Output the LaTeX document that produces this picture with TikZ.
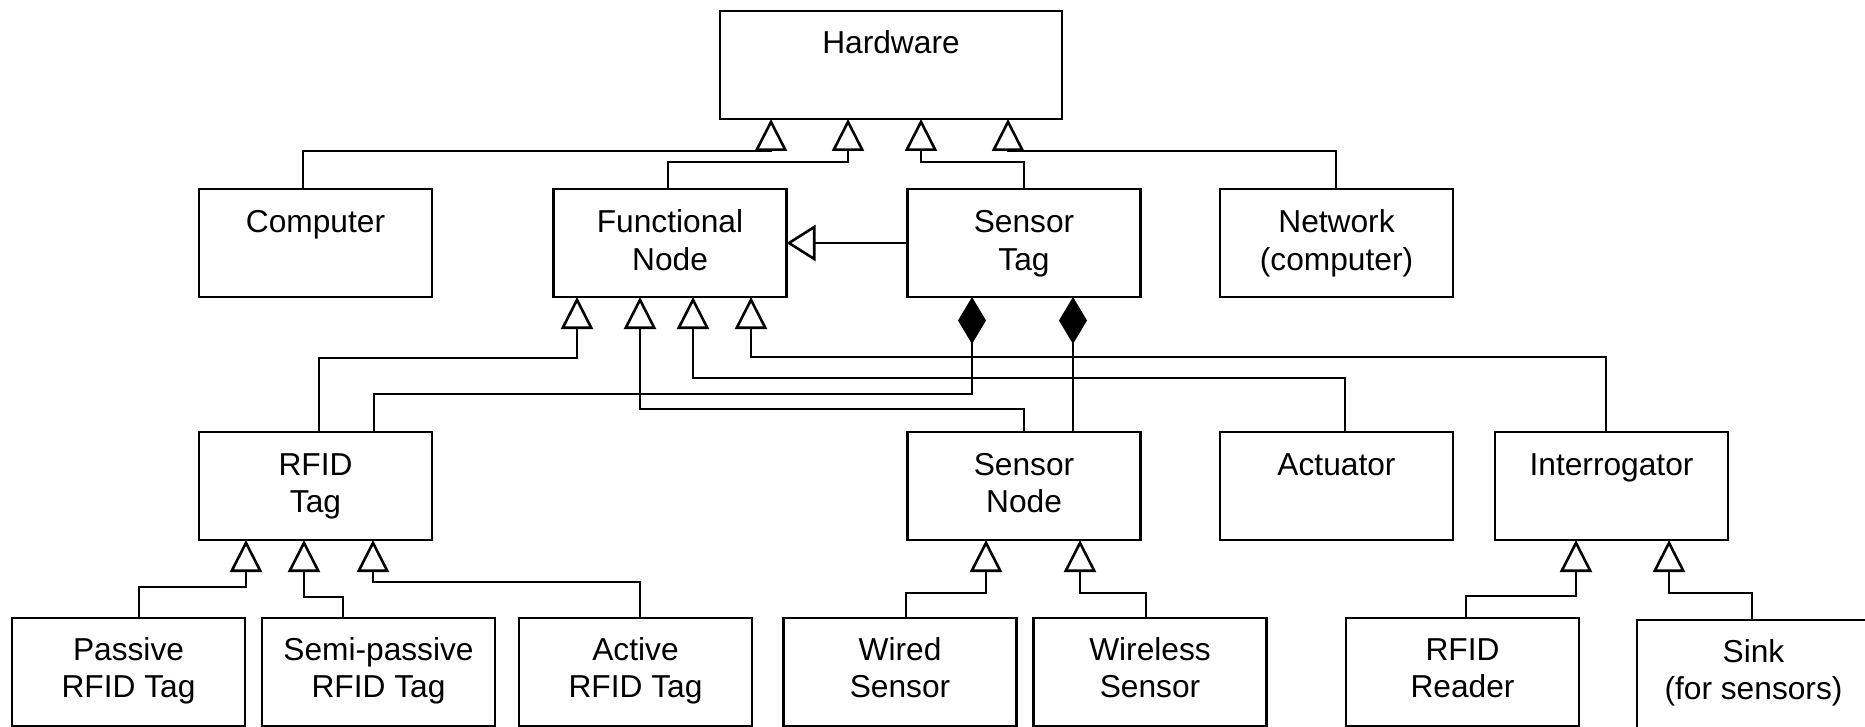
\documentclass[tikz,border=0pt]{standalone}
\usepackage{fontspec}
\setmainfont{Liberation Sans}
\usetikzlibrary{arrows.meta}
\begin{document}
\begin{tikzpicture}[x=1pt,y=-1pt,
  box/.style={draw, line width=2.7pt, minimum height=108pt, minimum width=233pt, inner sep=0pt, outer sep=0pt},
  lbl/.style={font=\fontsize{31.7}{37}\selectfont, align=center, anchor=base, inner sep=0pt},
  conn/.style={line width=2.6pt},
  gen/.style={conn, -{Triangle[open, length=32pt, width=32pt, fill=white]}},
  genh/.style={conn, -{Triangle[open, length=29pt, width=36pt, fill=white]}},
  compos/.style={conn, -{Diamond[length=47pt, width=28pt]}},
]
\useasboundingbox (0,0) rectangle (1865,727);
% boxes
\node[box, minimum width=342pt] (hw) at (891,65) {};
\node[box] (comp) at (315.5,243) {};
\node[box] (fn) at (670,243) {};
\node[box] (st) at (1024,243) {};
\node[box] (net) at (1336.5,243) {};
\node[box] (rfid) at (315.5,486) {};
\node[box] (sn) at (1024,486) {};
\node[box] (act) at (1336.5,486) {};
\node[box] (intr) at (1611.5,486) {};
\node[box] (pas) at (128.5,672) {};
\node[box] (semi) at (378.5,672) {};
\node[box] (actv) at (635.5,672) {};
\node[box] (wired) at (900,672) {};
\node[box] (wless) at (1150,672) {};
\node[box] (reader) at (1462.5,672) {};
\node[box] (sink) at (1753.5,674) {};
% labels (base anchor = baseline of the last line)
\node[lbl] (hw-t) at ([yshift=-43pt]hw.north) {Hardware};
\node[lbl] (comp-t) at ([yshift=-44pt]comp.north) {Computer};
\node[lbl] (fn-t) at ([yshift=-81pt]fn.north) {Functional\\Node};
\node[lbl] (st-t) at ([yshift=-81pt]st.north) {Sensor\\Tag};
\node[lbl] (net-t) at ([yshift=-81pt]net.north) {Network\\(computer)};
\node[lbl] (rfid-t) at ([yshift=-80pt]rfid.north) {RFID\\Tag};
\node[lbl] (sn-t) at ([yshift=-80pt]sn.north) {Sensor\\Node};
\node[lbl] (act-t) at ([yshift=-43pt]act.north) {Actuator};
\node[lbl] (intr-t) at ([yshift=-43pt]intr.north) {Interrogator};
\node[lbl] (pas-t) at ([yshift=-79pt]pas.north) {Passive\\RFID Tag};
\node[lbl] (semi-t) at ([yshift=-79pt]semi.north) {Semi-passive\\RFID Tag};
\node[lbl] (actv-t) at ([yshift=-79pt]actv.north) {Active\\RFID Tag};
\node[lbl] (wired-t) at ([yshift=-79pt]wired.north) {Wired\\Sensor};
\node[lbl] (wless-t) at ([yshift=-79pt]wless.north) {Wireless\\Sensor};
\node[lbl] (reader-t) at ([yshift=-79pt]reader.north) {RFID\\Reader};
\node[lbl] (sink-t) at ([yshift=-79pt]sink.north) {Sink\\(for sensors)};
% generalisations to Hardware
\draw[gen] (303,0 |- comp.north) |- (771,151) -- (771,0 |- hw.south);
\draw[gen] (668,0 |- fn.north) |- (848,162) -- (848,0 |- hw.south);
\draw[gen] (1024,0 |- st.north) |- (921,162) -- (921,0 |- hw.south);
\draw[gen] (1336,0 |- net.north) |- (1008,151) -- (1008,0 |- hw.south);
% Sensor Tag -> Functional Node
\draw[genh] (st.west) -- (fn.east);
% generalisations to Functional Node
\draw[gen] (319,0 |- rfid.north) |- (577,358) -- (577,0 |- fn.south);
\draw[gen] (1024,0 |- sn.north) |- (640,409) -- (640,0 |- fn.south);
\draw[gen] (1345,0 |- act.north) |- (693,378) -- (693,0 |- fn.south);
\draw[gen] (1606,0 |- intr.north) |- (751,357) -- (751,0 |- fn.south);
% compositions of Sensor Tag
\draw[compos] (374,0 |- rfid.north) |- (972,394) -- (972,0 |- st.south);
\draw[compos] (1073,0 |- sn.north) -- (1073,0 |- st.south);
% RFID Tag subtypes
\draw[gen] (139,0 |- pas.north) |- (246,587) -- (246,0 |- rfid.south);
\draw[gen] (343,0 |- semi.north) |- (304,597) -- (304,0 |- rfid.south);
\draw[gen] (640,0 |- actv.north) |- (373,582) -- (373,0 |- rfid.south);
% Sensor Node subtypes
\draw[gen] (906,0 |- wired.north) |- (986,593) -- (986,0 |- sn.south);
\draw[gen] (1146,0 |- wless.north) |- (1080,593) -- (1080,0 |- sn.south);
% Interrogator subtypes
\draw[gen] (1466,0 |- reader.north) |- (1576,596) -- (1576,0 |- intr.south);
\draw[gen] (1752,0 |- sink.north) |- (1669,593) -- (1669,0 |- intr.south);
\end{tikzpicture}
\end{document}
